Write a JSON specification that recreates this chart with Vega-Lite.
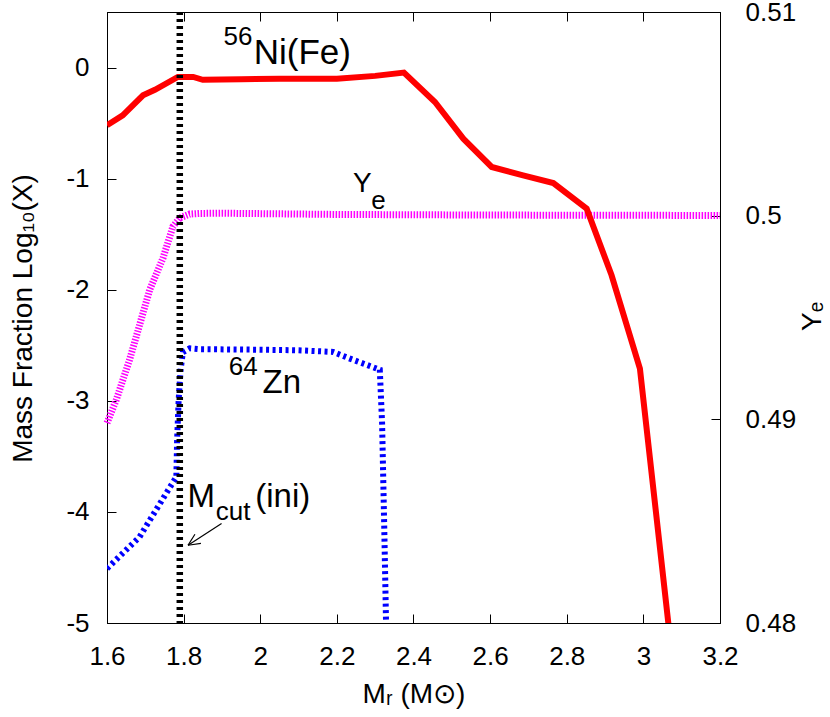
{
  "$schema": "https://vega.github.io/schema/vega-lite/v6.json",
  "width": 613,
  "height": 611,
  "autosize": {"type": "none"},
  "padding": {"left": 107, "top": 12, "right": 110, "bottom": 94},
  "background": "white",
  "config": {
    "font": "Liberation Sans",
    "view": {"stroke": "#000", "strokeWidth": 1},
    "axis": {
      "grid": false, "domainColor": "#000", "domainWidth": 1, "tickColor": "#000", "tickWidth": 1, "tickSize": -9,
      "labelFont": "Liberation Sans", "labelFontSize": 26, "labelColor": "#000",
      "titleFont": "Liberation Sans", "titleFontSize": 28, "titleFontWeight": "normal", "titleColor": "#000",
      "labelOverlap": false, "labelFlush": false, "labelBound": false
    }
  },
  "datasets": {
    "ni": [
      {"m": 1.600, "v": -0.52}, {"m": 1.641, "v": -0.43}, {"m": 1.694, "v": -0.25}, {"m": 1.725, "v": -0.20},
      {"m": 1.785, "v": -0.085}, {"m": 1.825, "v": -0.085}, {"m": 1.850, "v": -0.11}, {"m": 1.95, "v": -0.105},
      {"m": 2.05, "v": -0.10}, {"m": 2.2, "v": -0.10}, {"m": 2.3, "v": -0.075}, {"m": 2.375, "v": -0.045},
      {"m": 2.456, "v": -0.31}, {"m": 2.53, "v": -0.64}, {"m": 2.604, "v": -0.895}, {"m": 2.686, "v": -0.97},
      {"m": 2.765, "v": -1.04}, {"m": 2.852, "v": -1.27}, {"m": 2.917, "v": -1.87}, {"m": 2.991, "v": -2.71},
      {"m": 3.08, "v": -5.46}
    ],
    "ye": [
      {"m": 1.600, "ye": 0.48982}, {"m": 1.6245, "ye": 0.49097}, {"m": 1.659, "ye": 0.49293}, {"m": 1.7115, "ye": 0.49636},
      {"m": 1.746, "ye": 0.49791}, {"m": 1.772, "ye": 0.49946}, {"m": 1.790, "ye": 0.49989}, {"m": 1.816, "ye": 0.50008},
      {"m": 1.842, "ye": 0.50011}, {"m": 1.9, "ye": 0.50012}, {"m": 2.2, "ye": 0.50006}, {"m": 2.6, "ye": 0.50003},
      {"m": 3.2, "ye": 0.50001}
    ],
    "zn": [
      {"m": 1.600, "v": -4.51}, {"m": 1.685, "v": -4.225}, {"m": 1.755, "v": -3.83}, {"m": 1.781, "v": -3.685},
      {"m": 1.783, "v": -3.355}, {"m": 1.787, "v": -2.995}, {"m": 1.792, "v": -2.725}, {"m": 1.798, "v": -2.563},
      {"m": 1.816, "v": -2.527}, {"m": 1.842, "v": -2.535}, {"m": 2.0, "v": -2.54}, {"m": 2.1, "v": -2.545},
      {"m": 2.19, "v": -2.56}, {"m": 2.234, "v": -2.62}, {"m": 2.312, "v": -2.72}, {"m": 2.318, "v": -3.2},
      {"m": 2.324, "v": -4.2}, {"m": 2.33, "v": -5.3}
    ],
    "cut": [{"m": 1.79}],
    "arrow": [
      {"m": 1.899, "v": -4.104, "m2": 1.8115, "v2": -4.300},
      {"m": 1.8115, "v": -4.300, "m2": 1.8452, "v2": -4.283},
      {"m": 1.8115, "v": -4.300, "m2": 1.8295, "v2": -4.201}
    ],
    "labels": [
      {"m": 1.904, "v": 0.2007, "t": "56", "k": "d"},
      {"m": 1.983, "v": 0.036, "t": "Ni(Fe)", "k": "a"},
      {"m": 2.242, "v": -1.12, "t": "Y", "k": "c"},
      {"m": 2.290, "v": -1.269, "t": "e", "k": "d"},
      {"m": 1.918, "v": -2.77, "t": "64", "k": "d"},
      {"m": 2.006, "v": -2.934, "t": "Zn", "k": "b"},
      {"m": 1.810, "v": -3.955, "t": "M", "k": "b"},
      {"m": 1.884, "v": -4.075, "t": "cut", "k": "d"},
      {"m": 1.987, "v": -3.955, "t": "(ini)", "k": "b"}
    ]
  },
  "layer": [
    {
      "data": {"name": "ye"},
      "mark": {"type": "line", "color": "#ff00ff", "strokeWidth": 7, "strokeDash": [1.5, 1.5], "strokeCap": "butt"},
      "encoding": {
        "x": {"field": "m", "type": "quantitative", "scale": {"domain": [1.6, 3.2], "nice": false, "zero": false},
          "axis": {"orient": "top", "labels": false, "title": null, "values": [1.6, 1.8, 2, 2.2, 2.4, 2.6, 2.8, 3, 3.2]}},
        "y": {"field": "ye", "type": "quantitative", "scale": {"domain": [0.48, 0.51], "nice": false, "zero": false},
          "axis": {"orient": "right", "values": [0.48, 0.49, 0.5, 0.51], "labelExpr": "toString(datum.value)", "labelPadding": 34,
            "title": "Yₑ", "titleAngle": 270, "titleX": 100, "titleY": 304, "titleBaseline": "alphabetic", "titleAlign": "center"}}
      }
    },
    {
      "data": {"name": "ni"},
      "mark": {"type": "line", "color": "#ff0000", "strokeWidth": 6, "clip": true},
      "encoding": {
        "x": {"field": "m", "type": "quantitative", "scale": {"domain": [1.6, 3.2], "nice": false, "zero": false},
          "axis": {"orient": "bottom", "values": [1.6, 1.8, 2, 2.2, 2.4, 2.6, 2.8, 3, 3.2], "labelExpr": "toString(datum.value)", "labelPadding": 29,
            "title": "Mᵣ (M⊙)", "titleX": 306.5, "titleY": 79, "titleBaseline": "alphabetic", "titleAlign": "center"}},
        "y": {"field": "v", "type": "quantitative", "scale": {"domain": [-5, 0.5], "nice": false, "zero": false},
          "axis": {"orient": "left", "values": [-5, -4, -3, -2, -1, 0], "labelExpr": "toString(datum.value)", "labelPadding": 27,
            "title": "Mass Fraction Log₁₀(X)", "titleAngle": 270, "titleX": -76, "titleY": 306, "titleBaseline": "alphabetic", "titleAlign": "center"}}
      }
    },
    {
      "data": {"name": "zn"},
      "mark": {"type": "line", "color": "#0000ff", "strokeWidth": 6, "strokeDash": [3, 3.5], "strokeCap": "butt", "clip": true},
      "encoding": {
        "x": {"field": "m", "type": "quantitative", "scale": {"domain": [1.6, 3.2], "nice": false, "zero": false}, "axis": null},
        "y": {"field": "v", "type": "quantitative", "scale": {"domain": [-5, 0.5], "nice": false, "zero": false}, "axis": null}
      }
    },
    {
      "data": {"name": "cut"},
      "mark": {"type": "rule", "color": "#000", "strokeWidth": 6.5, "strokeDash": [3, 4], "strokeCap": "butt"},
      "encoding": {
        "x": {"field": "m", "type": "quantitative", "scale": {"domain": [1.6, 3.2], "nice": false, "zero": false}, "axis": null}
      }
    },
    {
      "data": {"name": "arrow"},
      "mark": {"type": "rule", "color": "#000", "strokeWidth": 1.2},
      "encoding": {
        "x": {"field": "m", "type": "quantitative", "scale": {"domain": [1.6, 3.2], "nice": false, "zero": false}, "axis": null},
        "y": {"field": "v", "type": "quantitative", "scale": {"domain": [-5, 0.5], "nice": false, "zero": false}, "axis": null},
        "x2": {"field": "m2"},
        "y2": {"field": "v2"}
      }
    },
    {
      "data": {"name": "labels"},
      "transform": [{"filter": "datum.k === 'a'"}],
      "mark": {"type": "text", "align": "left", "baseline": "alphabetic", "fontSize": 35, "font": "Liberation Sans", "color": "#000"},
      "encoding": {
        "x": {"field": "m", "type": "quantitative", "scale": {"domain": [1.6, 3.2], "nice": false, "zero": false}, "axis": null},
        "y": {"field": "v", "type": "quantitative", "scale": {"domain": [-5, 0.5], "nice": false, "zero": false}, "axis": null},
        "text": {"field": "t"}
      }
    },
    {
      "data": {"name": "labels"},
      "transform": [{"filter": "datum.k === 'b'"}],
      "mark": {"type": "text", "align": "left", "baseline": "alphabetic", "fontSize": 33, "font": "Liberation Sans", "color": "#000"},
      "encoding": {
        "x": {"field": "m", "type": "quantitative", "scale": {"domain": [1.6, 3.2], "nice": false, "zero": false}, "axis": null},
        "y": {"field": "v", "type": "quantitative", "scale": {"domain": [-5, 0.5], "nice": false, "zero": false}, "axis": null},
        "text": {"field": "t"}
      }
    },
    {
      "data": {"name": "labels"},
      "transform": [{"filter": "datum.k === 'c'"}],
      "mark": {"type": "text", "align": "left", "baseline": "alphabetic", "fontSize": 28, "font": "Liberation Sans", "color": "#000"},
      "encoding": {
        "x": {"field": "m", "type": "quantitative", "scale": {"domain": [1.6, 3.2], "nice": false, "zero": false}, "axis": null},
        "y": {"field": "v", "type": "quantitative", "scale": {"domain": [-5, 0.5], "nice": false, "zero": false}, "axis": null},
        "text": {"field": "t"}
      }
    },
    {
      "data": {"name": "labels"},
      "transform": [{"filter": "datum.k === 'd'"}],
      "mark": {"type": "text", "align": "left", "baseline": "alphabetic", "fontSize": 26, "font": "Liberation Sans", "color": "#000"},
      "encoding": {
        "x": {"field": "m", "type": "quantitative", "scale": {"domain": [1.6, 3.2], "nice": false, "zero": false}, "axis": null},
        "y": {"field": "v", "type": "quantitative", "scale": {"domain": [-5, 0.5], "nice": false, "zero": false}, "axis": null},
        "text": {"field": "t"}
      }
    }
  ],
  "resolve": {"scale": {"x": "independent", "y": "independent"}, "axis": {"x": "independent", "y": "independent"}}
}
